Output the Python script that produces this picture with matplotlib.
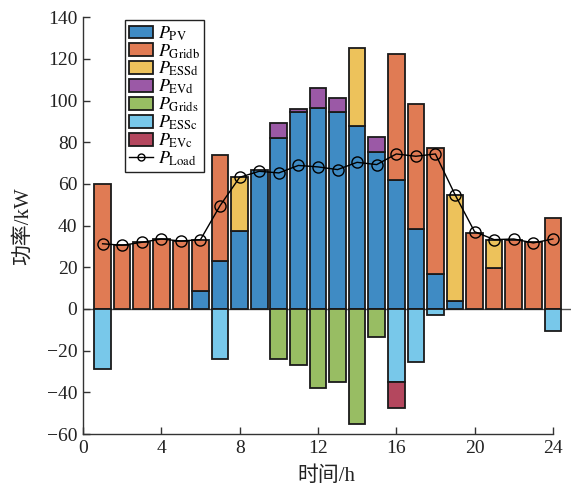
import numpy as np
import matplotlib
matplotlib.use("Agg")
import matplotlib.pyplot as plt
from matplotlib.lines import Line2D
from matplotlib.patches import Patch

plt.rcParams['font.family'] = ['Liberation Serif', 'Noto Sans CJK SC', 'DejaVu Sans']
plt.rcParams['mathtext.fontset'] = 'stix'

hours = np.arange(1, 25)
P_PV    = [0, 0, 0, 0, 0, 8.8, 23.2, 37.6, 66.9, 82.1, 94.5, 96.6, 94.5, 87.7, 75.4, 62.1, 38.5, 16.9, 3.6, 0, 0, 0, 0, 0]
P_Gridb = [60.2, 30.9, 32.0, 33.6, 32.6, 24.5, 50.5, 0, 0, 0, 0, 0, 0, 0, 0, 60.1, 60.1, 60.4, 0, 36.5, 19.8, 33.3, 32.0, 43.8]
P_ESSd  = [0, 0, 0, 0, 0, 0, 0, 25.6, 0, 0, 0, 0, 0, 37.6, 0, 0, 0, 0, 50.9, 0, 13.5, 0, 0, 0]
P_EVd   = [0, 0, 0, 0, 0, 0, 0, 0, 0, 7.2, 1.6, 9.3, 6.9, 0, 7.2, 0, 0, 0, 0, 0, 0, 0, 0, 0]
P_Grids = [0, 0, 0, 0, 0, 0, 0, 0, 0, -24.0, -27.1, -37.8, -34.8, -55.1, -13.3, 0, 0, 0, 0, 0, 0, 0, 0, 0]
P_ESSc  = [-28.7, 0, 0, 0, 0, 0, -24.2, 0, 0, 0, 0, 0, 0, 0, 0, -34.8, -25.4, -2.7, 0, 0, 0, 0, 0, -10.6]
P_EVc   = [0, 0, 0, 0, 0, 0, 0, 0, 0, 0, 0, 0, 0, 0, 0, -12.9, 0, 0, 0, 0, 0, 0, 0, 0]
P_Load  = [31.3, 30.6, 32.0, 33.6, 32.6, 33.3, 49.6, 63.2, 66.1, 65.3, 68.9, 68.2, 66.9, 70.4, 69.3, 74.4, 73.3, 74.4, 54.9, 37.1, 33.3, 33.6, 31.7, 33.6]

labels = [r'$P_{\mathrm{PV}}$', r'$P_{\mathrm{Gridb}}$', r'$P_{\mathrm{ESSd}}$', r'$P_{\mathrm{EVd}}$',
          r'$P_{\mathrm{Grids}}$', r'$P_{\mathrm{ESSc}}$', r'$P_{\mathrm{EVc}}$', r'$P_{\mathrm{Load}}$']
colors = ['#3F8BC4', '#E07B54', '#EDC25B', '#9B59A6', '#98BD63', '#78C8EA', '#B4475E']

fig = plt.figure(figsize=(5.83, 4.87), dpi=100)
ax = fig.add_axes([0.1424, 0.1088, 0.9786 - 0.1424, 0.9645 - 0.1088])

w = 0.85
lw = 1.3
pos_series = [P_PV, P_Gridb, P_ESSd, P_EVd]
neg_series = [P_Grids, P_ESSc, P_EVc]
bottom = np.zeros(24)
for s, c in zip(pos_series, colors[:4]):
    s = np.array(s)
    m = s != 0
    ax.bar(hours[m], s[m], w, bottom=bottom[m], color=c, edgecolor='#1a1a1a', linewidth=lw, zorder=2)
    bottom += s
bottom = np.zeros(24)
for s, c in zip(neg_series, colors[4:]):
    s = np.array(s)
    m = s != 0
    ax.bar(hours[m], s[m], w, bottom=bottom[m], color=c, edgecolor='#1a1a1a', linewidth=lw, zorder=2)
    bottom += s

ax.plot(hours, P_Load, '-o', color='black', lw=1.0, ms=8, mfc='none', mec='black', mew=1.0, zorder=4)
ax.axhline(0, color='#555555', lw=1.0, zorder=1.5)

ax.set_xlim(0, 24.9)
ax.set_ylim(-60, 140)
ax.set_xticks(range(0, 25, 4))
ax.set_yticks(range(-60, 141, 20))
ax.spines['top'].set_visible(False)
ax.spines['right'].set_visible(False)
ax.spines['bottom'].set_bounds(0, 24)
for sp in ['left', 'bottom']:
    ax.spines[sp].set_color('#333333')
    ax.spines[sp].set_linewidth(1.0)
ax.tick_params(direction='in', length=5, width=1.0, labelsize=14, colors='#333333', labelcolor='#222222')
ax.tick_params(axis='y', pad=4)
ax.tick_params(axis='x', pad=4)
ax.set_xlabel('时间/h', fontsize=15, color='#222222', labelpad=7)
ax.set_ylabel('功率/kW', fontsize=15, color='#222222', labelpad=10)

handles = [Patch(facecolor=c, edgecolor='#1a1a1a', linewidth=1.3) for c in colors]
handles.append(Line2D([0], [0], color='black', lw=1.0, marker='o', ms=5, mfc='none', mec='black'))
leg = ax.legend(handles, labels, loc='upper left', bbox_to_anchor=(0.086, 0.994), borderaxespad=0,
                fontsize=13, frameon=True, fancybox=False, framealpha=1, edgecolor='#222222',
                handlelength=1.28, handleheight=0.72, handletextpad=0.28, labelspacing=-0.03, borderpad=0.25)
leg.get_frame().set_linewidth(1.0)

fig.savefig('out.png', dpi=100)
